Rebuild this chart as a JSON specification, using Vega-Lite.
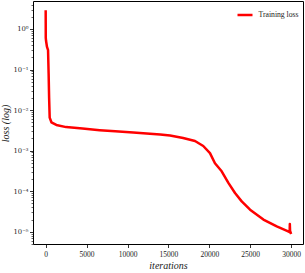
{
  "$schema": "https://vega.github.io/schema/vega-lite/v6.json",
  "width": 270,
  "height": 243,
  "autosize": {"type": "none"},
  "padding": {"left": 33, "top": 1, "right": 2, "bottom": 29},
  "background": "white",
  "config": {
    "view": {"stroke": "#000", "strokeWidth": 1},
    "axis": {
      "domain": false,
      "grid": false,
      "tickColor": "#000",
      "tickWidth": 0.8,
      "labelFont": "Liberation Serif",
      "labelFontSize": 7.5,
      "labelColor": "#222",
      "titleFont": "Liberation Serif",
      "titleFontStyle": "italic",
      "titleFontWeight": "normal",
      "titleFontSize": 10,
      "titleColor": "#222"
    }
  },
  "data": {
    "values": [
      {"it": 0, "loss": 2.9},
      {"it": 5, "loss": 1.4},
      {"it": 10, "loss": 0.6},
      {"it": 40, "loss": 0.52},
      {"it": 160, "loss": 0.36},
      {"it": 290, "loss": 0.3},
      {"it": 360, "loss": 0.08},
      {"it": 420, "loss": 0.02},
      {"it": 490, "loss": 0.0065},
      {"it": 700, "loss": 0.005},
      {"it": 1300, "loss": 0.0043},
      {"it": 2500, "loss": 0.0038},
      {"it": 4500, "loss": 0.0035},
      {"it": 6600, "loss": 0.0032},
      {"it": 8500, "loss": 0.003},
      {"it": 10700, "loss": 0.0028},
      {"it": 12750, "loss": 0.0026},
      {"it": 14000, "loss": 0.0025},
      {"it": 15200, "loss": 0.00235},
      {"it": 16800, "loss": 0.00205},
      {"it": 18250, "loss": 0.00173},
      {"it": 19260, "loss": 0.0013},
      {"it": 20080, "loss": 0.00087},
      {"it": 20690, "loss": 0.00049},
      {"it": 21510, "loss": 0.00031},
      {"it": 22330, "loss": 0.00016},
      {"it": 23140, "loss": 0.00009},
      {"it": 23960, "loss": 0.000056},
      {"it": 24980, "loss": 0.000035},
      {"it": 26610, "loss": 0.00002},
      {"it": 28240, "loss": 0.0000135},
      {"it": 29500, "loss": 0.0000105},
      {"it": 29820, "loss": 0.0000098},
      {"it": 29840, "loss": 0.0000155},
      {"it": 29870, "loss": 0.0000105},
      {"it": 30000, "loss": 0.0000088}
    ]
  },
  "mark": {"type": "line", "strokeWidth": 2.5, "clip": true, "strokeJoin": "round"},
  "encoding": {
    "x": {
      "field": "it",
      "type": "quantitative",
      "scale": {"domain": [-1550, 31450], "nice": false, "zero": false},
      "axis": {
        "title": "iterations",
        "values": [0, 5000, 10000, 15000, 20000, 25000, 30000],
        "format": "d",
        "tickSize": 3.5,
        "labelPadding": 2.5,
        "titleX": 135,
        "titleY": 24,
        "titleBaseline": "alphabetic"
      }
    },
    "y": {
      "field": "loss",
      "type": "quantitative",
      "scale": {"type": "log", "domain": [0.00000498, 4.9], "nice": false},
      "axis": {
        "title": "loss (log)",
        "values": [0.000005, 0.000006, 0.000007, 0.000008, 0.000009,
                   0.00001, 0.00002, 0.00003, 0.00004, 0.00005, 0.00006, 0.00007, 0.00008, 0.00009,
                   0.0001, 0.0002, 0.0003, 0.0004, 0.0005, 0.0006, 0.0007, 0.0008, 0.0009,
                   0.001, 0.002, 0.003, 0.004, 0.005, 0.006, 0.007, 0.008, 0.009,
                   0.01, 0.02, 0.03, 0.04, 0.05, 0.06, 0.07, 0.08, 0.09,
                   0.1, 0.2, 0.3, 0.4, 0.5, 0.6, 0.7, 0.8, 0.9,
                   1, 2, 3, 4],
        "labelOverlap": false,
        "labelFont": "DejaVu Serif",
        "labelFontSize": 6.8,
        "labelExpr": "abs(log(datum.value)/LN10 - round(log(datum.value)/LN10)) < 1e-6 ? ['10⁻⁵','10⁻⁴','10⁻³','10⁻²','10⁻¹','10⁰'][round(log(datum.value)/LN10)+5] : ''",
        "tickSize": {"condition": {"test": "abs(log(datum.value)/LN10 - round(log(datum.value)/LN10)) < 1e-6", "value": 3.5}, "value": 2},
        "tickWidth": {"condition": {"test": "abs(log(datum.value)/LN10 - round(log(datum.value)/LN10)) < 1e-6", "value": 0.8}, "value": 0.6},
        "labelPadding": 1.5,
        "titleX": -25,
        "titleY": 122,
        "titleAngle": -90,
        "titleBaseline": "alphabetic",
        "titleAlign": "center"
      }
    },
    "color": {
      "datum": "Training loss",
      "type": "nominal",
      "scale": {"domain": ["Training loss"], "range": ["#ff0000"]},
      "legend": {
        "title": null,
        "orient": "none",
        "legendX": 203,
        "legendY": 5,
        "padding": 0,
        "symbolType": "stroke",
        "symbolStrokeWidth": 2.5,
        "symbolSize": 225,
        "labelFont": "Liberation Serif",
        "labelFontSize": 7.7,
        "labelColor": "#222",
        "labelOffset": 4.5
      }
    }
  }
}
